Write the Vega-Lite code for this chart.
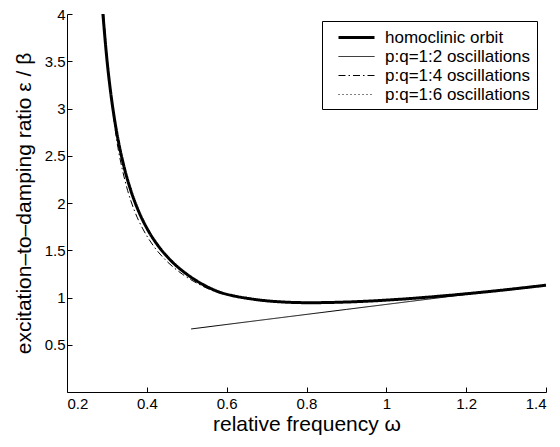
{
  "$schema": "https://vega.github.io/schema/vega-lite/v6.json",
  "width": 479,
  "height": 378,
  "autosize": {"type": "none"},
  "padding": {"left": 67, "top": 14, "right": 14, "bottom": 55},
  "config": {
    "view": {"stroke": null},
    "font": "Liberation Sans",
    "axis": {
      "grid": false,
      "domainColor": "black",
      "tickColor": "black",
      "labelColor": "black",
      "titleColor": "black",
      "labelFontSize": 15,
      "titleFontSize": 21,
      "titleFontWeight": "normal",
      "tickSize": -5,
      "labelFont": "Liberation Sans",
      "titleFont": "Liberation Sans"
    }
  },
  "data": {
    "values": [
      {"series": "homoclinic orbit", "x": 0.290, "y": 4.00},
      {"series": "homoclinic orbit", "x": 0.300, "y": 3.519},
      {"series": "homoclinic orbit", "x": 0.310, "y": 3.151},
      {"series": "homoclinic orbit", "x": 0.320, "y": 2.861},
      {"series": "homoclinic orbit", "x": 0.330, "y": 2.626},
      {"series": "homoclinic orbit", "x": 0.345, "y": 2.348},
      {"series": "homoclinic orbit", "x": 0.360, "y": 2.131},
      {"series": "homoclinic orbit", "x": 0.380, "y": 1.907},
      {"series": "homoclinic orbit", "x": 0.400, "y": 1.734},
      {"series": "homoclinic orbit", "x": 0.430, "y": 1.538},
      {"series": "homoclinic orbit", "x": 0.460, "y": 1.392},
      {"series": "homoclinic orbit", "x": 0.500, "y": 1.247},
      {"series": "homoclinic orbit", "x": 0.540, "y": 1.139},
      {"series": "homoclinic orbit", "x": 0.580, "y": 1.060},
      {"series": "homoclinic orbit", "x": 0.620, "y": 1.015},
      {"series": "homoclinic orbit", "x": 0.657, "y": 0.988},
      {"series": "homoclinic orbit", "x": 0.720, "y": 0.958},
      {"series": "homoclinic orbit", "x": 0.807, "y": 0.945},
      {"series": "homoclinic orbit", "x": 0.900, "y": 0.952},
      {"series": "homoclinic orbit", "x": 1.033, "y": 0.981},
      {"series": "homoclinic orbit", "x": 1.150, "y": 1.020},
      {"series": "homoclinic orbit", "x": 1.250, "y": 1.060},
      {"series": "homoclinic orbit", "x": 1.400, "y": 1.130},
      {"series": "p:q=1:2 oscillations", "x": 0.511, "y": 0.667},
      {"series": "p:q=1:2 oscillations", "x": 0.700, "y": 0.768},
      {"series": "p:q=1:2 oscillations", "x": 0.900, "y": 0.874},
      {"series": "p:q=1:2 oscillations", "x": 1.100, "y": 0.980},
      {"series": "p:q=1:2 oscillations", "x": 1.200, "y": 1.033},
      {"series": "p:q=1:4 oscillations", "x": 0.292, "y": 4.00},
      {"series": "p:q=1:4 oscillations", "x": 0.301, "y": 3.519},
      {"series": "p:q=1:4 oscillations", "x": 0.310, "y": 3.151},
      {"series": "p:q=1:4 oscillations", "x": 0.318, "y": 2.861},
      {"series": "p:q=1:4 oscillations", "x": 0.326, "y": 2.626},
      {"series": "p:q=1:4 oscillations", "x": 0.339, "y": 2.348},
      {"series": "p:q=1:4 oscillations", "x": 0.352, "y": 2.131},
      {"series": "p:q=1:4 oscillations", "x": 0.370, "y": 1.907},
      {"series": "p:q=1:4 oscillations", "x": 0.389, "y": 1.734},
      {"series": "p:q=1:4 oscillations", "x": 0.418, "y": 1.538},
      {"series": "p:q=1:4 oscillations", "x": 0.448, "y": 1.392},
      {"series": "p:q=1:4 oscillations", "x": 0.489, "y": 1.247},
      {"series": "p:q=1:4 oscillations", "x": 0.531, "y": 1.139},
      {"series": "p:q=1:4 oscillations", "x": 0.576, "y": 1.055},
      {"series": "p:q=1:4 oscillations", "x": 0.620, "y": 1.013},
      {"series": "p:q=1:4 oscillations", "x": 0.657, "y": 0.988},
      {"series": "p:q=1:4 oscillations", "x": 0.720, "y": 0.958},
      {"series": "p:q=1:6 oscillations", "x": 0.290, "y": 4.00},
      {"series": "p:q=1:6 oscillations", "x": 0.300, "y": 3.519},
      {"series": "p:q=1:6 oscillations", "x": 0.320, "y": 2.861},
      {"series": "p:q=1:6 oscillations", "x": 0.345, "y": 2.348},
      {"series": "p:q=1:6 oscillations", "x": 0.380, "y": 1.907},
      {"series": "p:q=1:6 oscillations", "x": 0.430, "y": 1.538},
      {"series": "p:q=1:6 oscillations", "x": 0.500, "y": 1.247},
      {"series": "p:q=1:6 oscillations", "x": 0.580, "y": 1.060},
      {"series": "p:q=1:6 oscillations", "x": 0.657, "y": 0.988},
      {"series": "p:q=1:6 oscillations", "x": 0.807, "y": 0.945}
    ]
  },
  "mark": {"type": "line", "color": "black", "strokeCap": "butt", "interpolate": "monotone"},
  "encoding": {
    "x": {
      "field": "x", "type": "quantitative",
      "scale": {"domain": [0.2, 1.4], "nice": false, "zero": false},
      "axis": {"values": [0.2, 0.4, 0.6, 0.8, 1, 1.2, 1.4], "title": "relative frequency ω", "labelPadding": 9, "titlePadding": 2, "format": "~g"}
    },
    "y": {
      "field": "y", "type": "quantitative",
      "scale": {"domain": [0, 4], "nice": false},
      "axis": {"values": [0.5, 1, 1.5, 2, 2.5, 3, 3.5, 4], "title": "excitation–to–damping ratio  ε / β", "labelPadding": 7, "titlePadding": 10, "format": "~g"}
    },
    "strokeDash": {
      "field": "series", "type": "nominal",
      "scale": {
        "domain": ["homoclinic orbit", "p:q=1:2 oscillations", "p:q=1:4 oscillations", "p:q=1:6 oscillations"],
        "range": [[1, 0], [1, 0], [7, 3, 1.5, 3], [1, 3]]
      },
      "legend": {
        "title": null,
        "orient": "none",
        "legendX": 255,
        "legendY": 7,
        "strokeColor": "black",
        "fillColor": "white",
        "padding": 6,
        "symbolType": "M0,0H4",
        "symbolSize": 324,
        "symbolStrokeColor": "black",
        "symbolFillColor": "transparent",
        "labelOffset": 36,
        "labelFontSize": 17,
        "labelFont": "Liberation Sans",
        "labelColor": "black",
        "rowPadding": 1
      }
    },
    "strokeWidth": {
      "field": "series", "type": "nominal",
      "scale": {
        "type": "ordinal",
        "domain": ["homoclinic orbit", "p:q=1:2 oscillations", "p:q=1:4 oscillations", "p:q=1:6 oscillations"],
        "range": [3, 1, 1, 1]
      },
      "legend": {
        "title": null,
        "orient": "none",
        "legendX": 255,
        "legendY": 7,
        "strokeColor": "black",
        "fillColor": "white",
        "padding": 6,
        "symbolType": "M0,0H4",
        "symbolSize": 324,
        "symbolStrokeColor": "black",
        "symbolFillColor": "transparent",
        "labelOffset": 36,
        "labelFontSize": 17,
        "labelFont": "Liberation Sans",
        "labelColor": "black",
        "rowPadding": 1
      }
    }
  }
}
